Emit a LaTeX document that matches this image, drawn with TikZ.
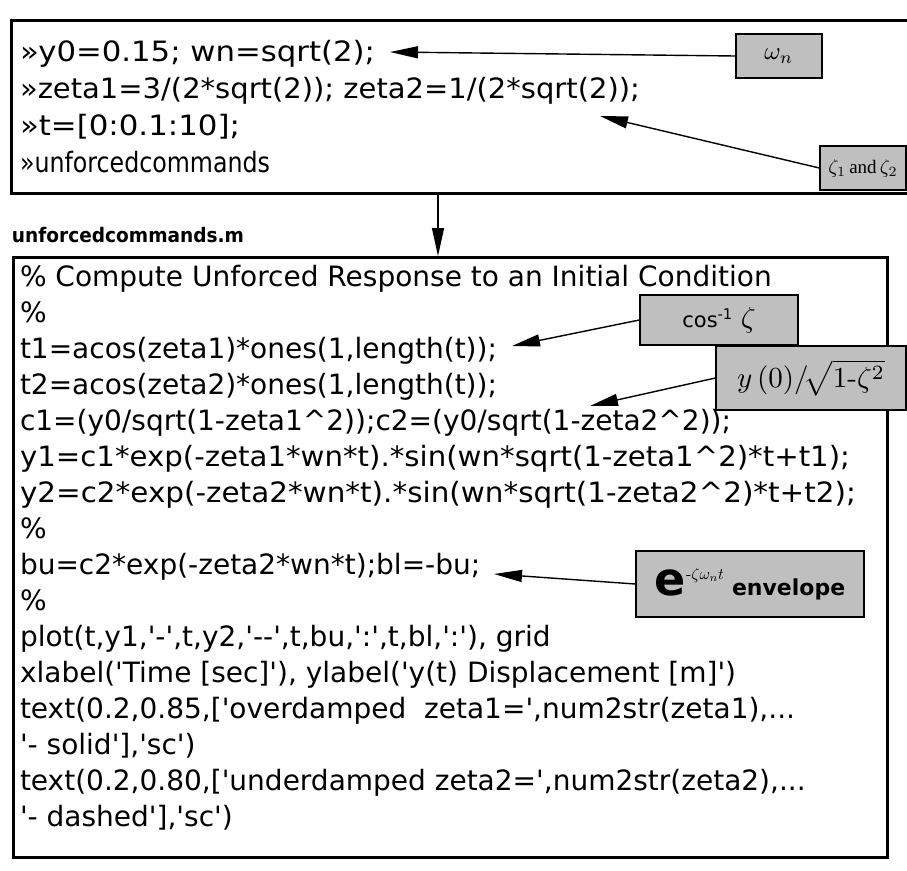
\documentclass[tikz,border=0pt]{standalone}
\usepackage{fontspec}
\usepackage{graphicx}
\usetikzlibrary{arrows.meta}
\newfontfamily\codefont{DejaVu Sans}
\newfontfamily\tagserif{Liberation Serif}
% listing text at its natural width
\newcommand\ncode[1]{{\codefont\fontsize{28}{36}\selectfont #1}}
% listing text fitted to a given width
\newcommand\mcode[2]{\resizebox{#1pt}{\height}{\codefont\fontsize{28}{36}\selectfont #2}}
\newcommand\sq{\textquotesingle}
% math at 10pt, enlarged by a factor
\newcommand\bigmath[2]{\scalebox{#1}{$#2$}}
\begin{document}
\begin{tikzpicture}[x=1pt,y=-1pt,
  codeline/.style={anchor=base west,inner sep=0pt,outer sep=0pt},
  frame/.style={draw=black,line width=#1,inner sep=0pt},
  tag/.style={draw=black,line width=1.3pt,fill=black!25,inner sep=0pt,align=center},
  conn/.style={line width=1.4pt,-{Triangle[length=28pt,width=12pt]}}]
\useasboundingbox (0,0) rectangle (907,870);
\fill[white] (0,0) rectangle (907,870);

% command window (runs off the right edge) and the script file
\node[frame=3pt,minimum width=905pt,minimum height=173pt,anchor=north west] (cmd) at (10,19) {};
\node[frame=2.6pt,minimum width=874pt,minimum height=600pt,anchor=north west] (file) at (12,256) {};

% commands typed at the prompt
\node[codeline] (p1) at (20,61)  {\mcode{355}{»y0=0.15; wn=sqrt(2);}};
\node[codeline] (p2) at (20,98)  {\mcode{620}{»zeta1=3/(2*sqrt(2)); zeta2=1/(2*sqrt(2));}};
\node[codeline] (p3) at (20,135) {\mcode{220}{»t=[0:0.1:10];}};
\node[codeline] (p4) at (20,172) {\mcode{250}{»unforcedcommands}};

% file name
\node[codeline] (fname) at (12,242)
  {\resizebox{232pt}{\height}{\codefont\bfseries\fontsize{20}{24}\selectfont unforcedcommands.m}};

% listing of unforcedcommands.m
\node[codeline] (c0)  at (20,286) {\ncode{\% Compute Unforced Response to an Initial Condition}};
\node[codeline] (c1)  at (20,322) {\ncode{\%}};
\node[codeline] (c2)  at (20,358) {\ncode{t1=acos(zeta1)*ones(1,length(t));}};
\node[codeline] (c3)  at (20,394) {\ncode{t2=acos(zeta2)*ones(1,length(t));}};
\node[codeline] (c4)  at (20,430) {\ncode{c1=(y0/sqrt(1-zeta1\textasciicircum 2));c2=(y0/sqrt(1-zeta2\textasciicircum 2));}};
\node[codeline] (c5)  at (20,466) {\mcode{830}{y1=c1*exp(-zeta1*wn*t).*sin(wn*sqrt(1-zeta1\textasciicircum 2)*t+t1);}};
\node[codeline] (c6)  at (20,502) {\mcode{836}{y2=c2*exp(-zeta2*wn*t).*sin(wn*sqrt(1-zeta2\textasciicircum 2)*t+t2);}};
\node[codeline] (c7)  at (20,538) {\ncode{\%}};
\node[codeline] (c8)  at (20,574) {\ncode{bu=c2*exp(-zeta2*wn*t);bl=-bu;}};
\node[codeline] (c9)  at (20,610) {\ncode{\%}};
\node[codeline] (c10) at (20,646) {\ncode{plot(t,y1,\sq-\sq,t,y2,\sq-{}-\sq,t,bu,\sq:\sq,t,bl,\sq:\sq), grid}};
\node[codeline] (c11) at (20,682) {\ncode{xlabel(\sq Time [sec]\sq), ylabel(\sq y(t) Displacement [m]\sq)}};
\node[codeline] (c12) at (20,718) {\ncode{text(0.2,0.85,[\sq overdamped\ \ zeta1=\sq,num2str(zeta1),...}};
\node[codeline] (c13) at (20,754) {\ncode{\sq- solid\sq],\sq sc\sq)}};
\node[codeline] (c14) at (20,790) {\ncode{text(0.2,0.80,[\sq underdamped zeta2=\sq,num2str(zeta2),...}};
\node[codeline] (c15) at (20,826) {\ncode{\sq- dashed\sq],\sq sc\sq)}};

% callout tags
\node[tag,minimum width=86pt,minimum height=44pt] (wn) at (779,56)
  {\bigmath{2.5}{\omega_{n}}};
\node[tag,minimum width=86pt,minimum height=44pt] (zz) at (863,168)
  {\bigmath{2.0}{\zeta_{1}}{\tagserif\fontsize{19}{19}\selectfont\,and\,}\bigmath{2.0}{\zeta_{2}}};
\node[tag,minimum width=158pt,minimum height=50pt] (acos) at (719,320)
  {{\codefont\fontsize{21}{21}\selectfont cos\textsuperscript{-1}}\hspace{8pt}\bigmath{2.9}{\zeta}};
\node[tag,minimum width=190pt,minimum height=64pt] (amp) at (811,378)
  {\bigmath{2.9}{y\,(0)/\!\sqrt{1\mbox{-}\zeta^{2}}}};
\node[tag,minimum width=228pt,minimum height=66pt] (env) at (750,584)
  {{\codefont\bfseries\fontsize{46}{46}\selectfont e}\raisebox{16pt}{\bigmath{1.6}{\mbox{-}\zeta\omega_{n}t}}\hspace{8pt}{\codefont\bfseries\fontsize{22}{22}\selectfont envelope}};

% arrow tips
\coordinate (wnTip)   at (390,52);
\coordinate (zzTip)   at (600,116);
\coordinate (acosTip) at (512,346);
\coordinate (ampTip)  at (590,406);
\coordinate (envTip)  at (494,574);
\coordinate (vx)      at (438,0);

% connectors
\draw[conn] (wn.west) -- (wnTip);
\draw[conn] (zz.west) -- (zzTip);
\draw[conn] (acos.west) -- (acosTip);
\draw[conn] (amp.west) -- (ampTip);
\draw[conn] (env.west) -- (envTip);
\draw[conn] (cmd.south -| vx) -- (file.north -| vx);
\end{tikzpicture}
\end{document}
